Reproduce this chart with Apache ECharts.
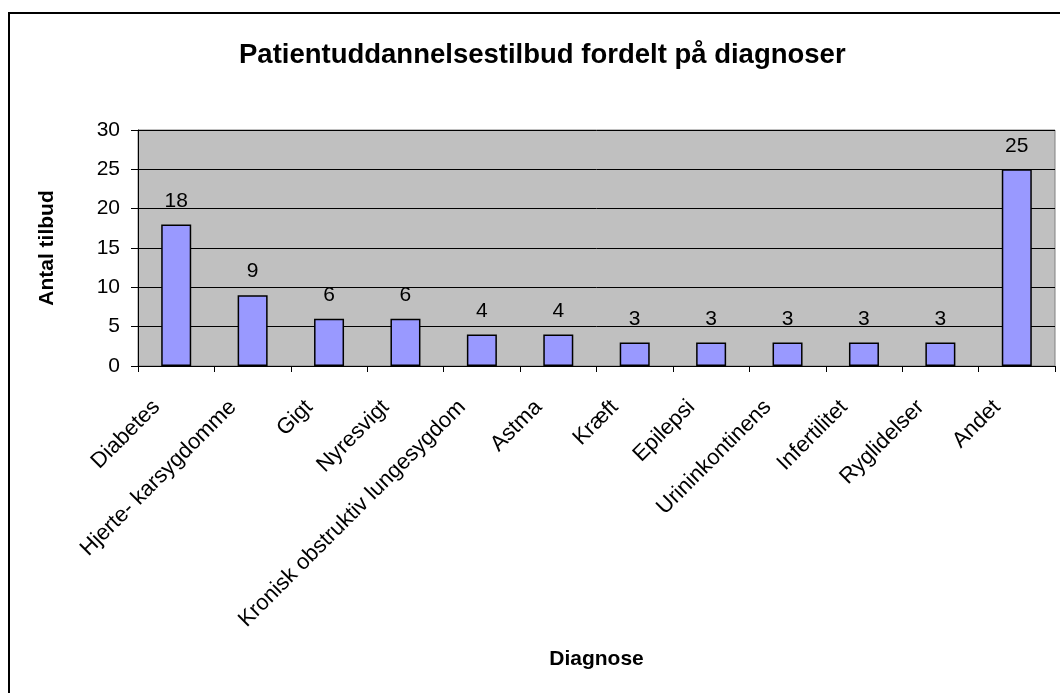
<!DOCTYPE html>
<html>
<head>
<meta charset="utf-8">
<script src="https://cdn.jsdelivr.net/npm/echarts@6/dist/echarts.min.js"></script>
<style>
  html, body { margin: 0; padding: 0; background: #fff; }
  #main { width: 1060px; height: 693px; }
</style>
</head>
<body>
<div id="main"></div>
<script>
const diagnoser = ['Diabetes', 'Hjerte- karsygdomme', 'Gigt', 'Nyresvigt',
    'Kronisk obstruktiv lungesygdom', 'Astma', 'Kræft', 'Epilepsi',
    'Urininkontinens', 'Infertilitet', 'Ryglidelser', 'Andet'];
const antalTilbud = [18, 9, 6, 6, 4, 4, 3, 3, 3, 3, 3, 25];
const yTicks = [0, 5, 10, 15, 20, 25, 30];

const font = 'Liberation Sans, Arial, sans-serif';

var chartDom = document.getElementById('main');
var myChart = echarts.init(chartDom);

var option = {
    animation: false,
    title: {
        text: 'Patientuddannelsestilbud fordelt på diagnoser',
        left: 234,
        top: 36,
        textStyle: { fontFamily: font, fontSize: 27.5, fontWeight: 'bold', color: '#000' }
    },
    graphic: [{
        type: 'rect',
        shape: { x: 9, y: 13, width: 1100, height: 800 },
        style: { fill: 'none', stroke: '#000', lineWidth: 2 },
        silent: true
    }],
    grid: {
        left: 138,
        right: 5,
        top: 130,
        bottom: 327,
        show: true,
        backgroundColor: '#C0C0C0',
        borderColor: '#808080',
        borderWidth: 1
    },
    xAxis: {
        type: 'category',
        data: diagnoser,
        name: 'Diagnose',
        nameLocation: 'middle',
        nameGap: 283,
        nameTextStyle: { fontFamily: font, fontSize: 21, fontWeight: 'bold', color: '#000' },
        axisLine: { lineStyle: { color: '#000', width: 1 } },
        axisTick: { show: true, length: 6, inside: false, lineStyle: { color: '#000' } },
        axisLabel: {
            interval: 0,
            rotate: 45,
            margin: 18,
            padding: [0, 28, 0, 0],
            fontFamily: font,
            fontSize: 22,
            color: '#000'
        }
    },
    yAxis: {
        type: 'value',
        min: yTicks[0],
        max: yTicks[yTicks.length - 1],
        interval: 5,
        name: 'Antal tilbud',
        nameLocation: 'middle',
        nameGap: 80,
        nameTextStyle: { fontFamily: font, fontSize: 21, fontWeight: 'bold', color: '#000' },
        axisLine: { show: true, lineStyle: { color: '#000', width: 1 } },
        axisTick: { show: true, length: 7, lineStyle: { color: '#000' } },
        axisLabel: { margin: 18, fontFamily: font, fontSize: 21, color: '#000' },
        splitLine: { show: true, lineStyle: { color: '#000', width: 1 } }
    },
    series: [{
        type: 'bar',
        data: antalTilbud,
        barWidth: 30,
        itemStyle: { color: '#9999FF', borderColor: '#000', borderWidth: 1.5 },
        label: {
            show: true,
            position: 'top',
            distance: 13,
            fontFamily: font,
            fontSize: 21,
            color: '#000'
        }
    }]
};

myChart.setOption(option);
</script>
</body>
</html>
